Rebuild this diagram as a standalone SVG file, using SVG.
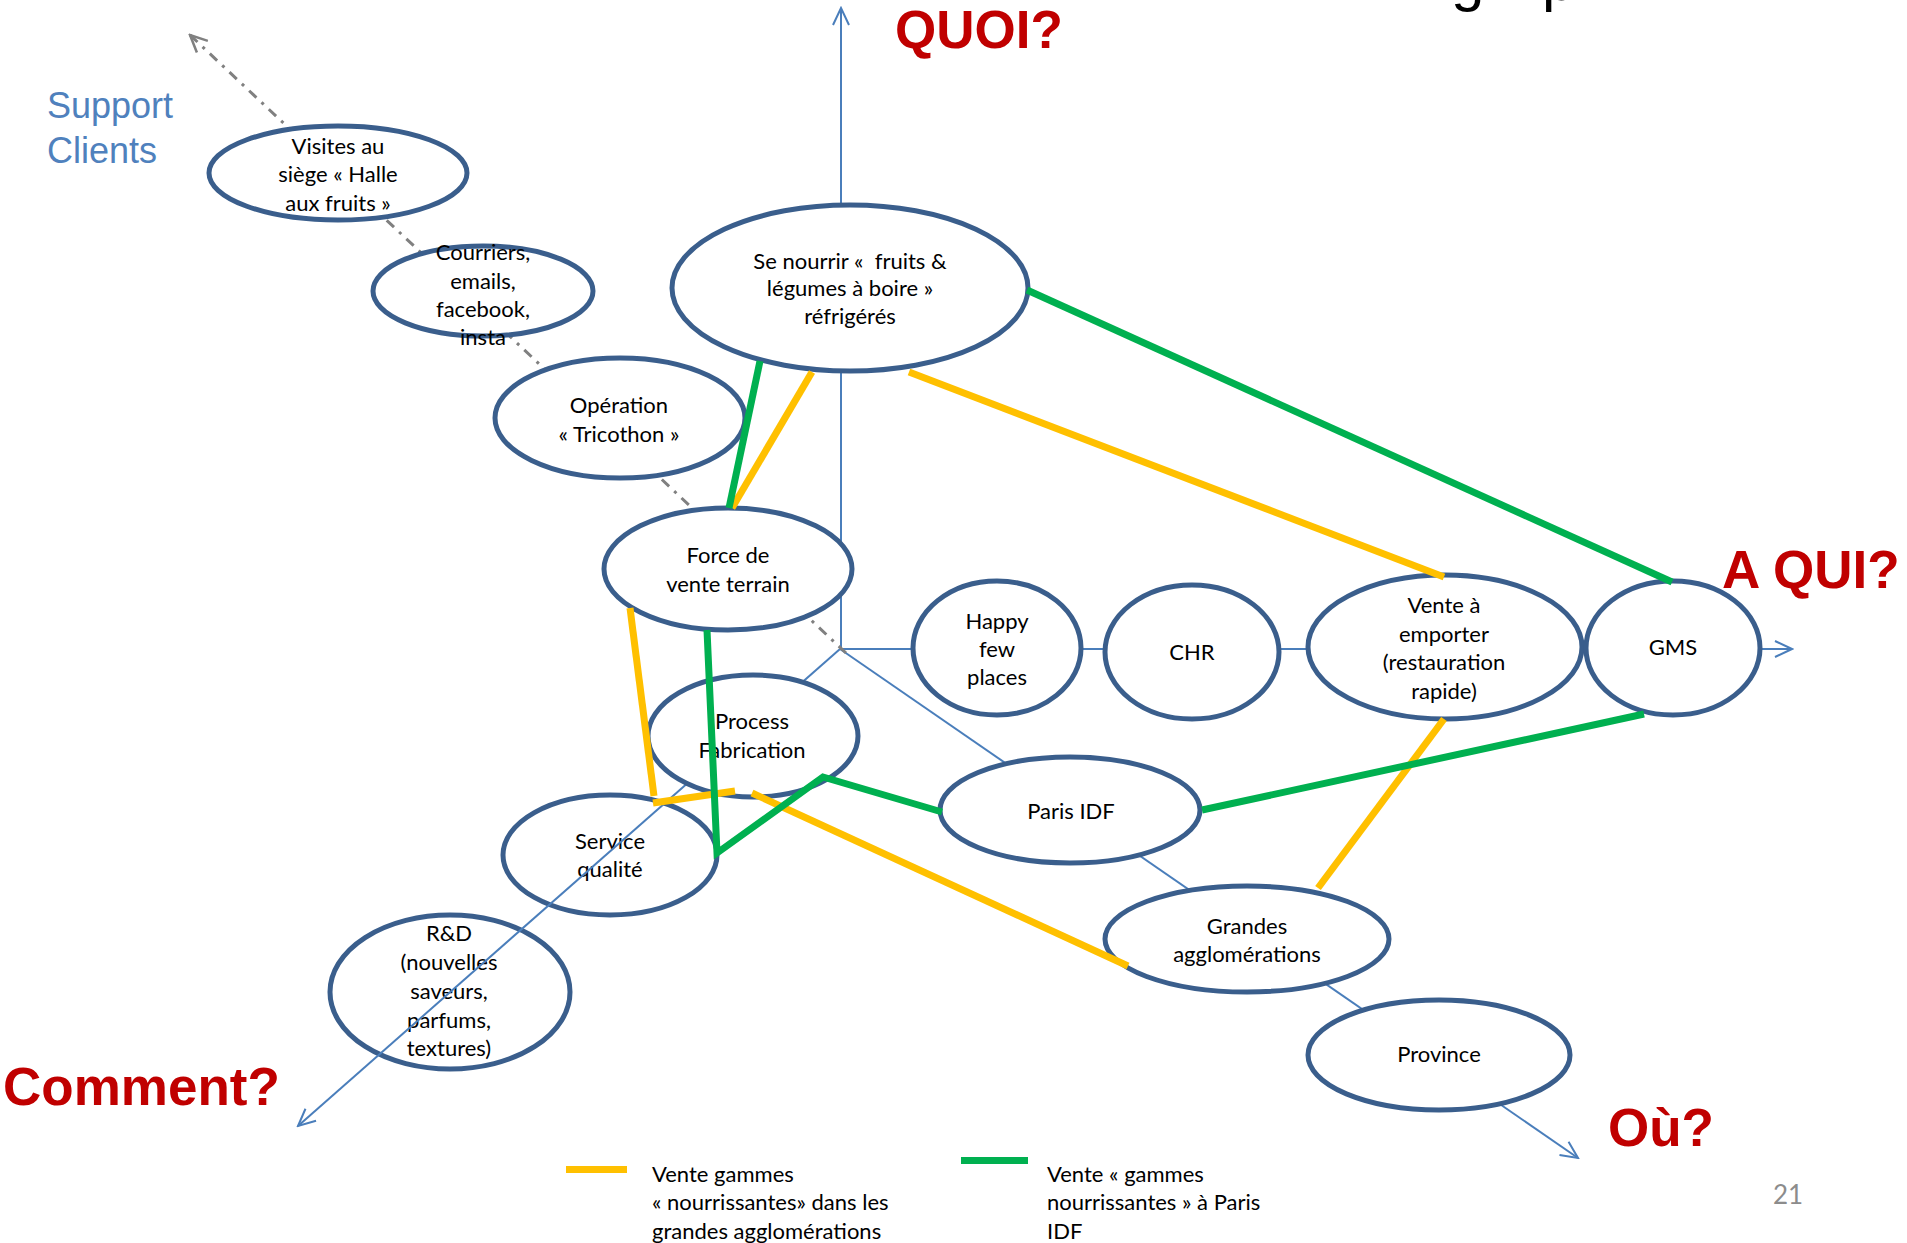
<svg xmlns="http://www.w3.org/2000/svg" width="1907" height="1243" viewBox="0 0 1907 1243">
  <style>
    .node ellipse { fill: #ffffff; stroke: #3A5E8C; stroke-width: 5; }
    .node text, .legend text { font-family: Lato, "Open Sans", "Liberation Sans", sans-serif; font-size: 22px; fill: #000000; text-anchor: middle; }
    .legend text { text-anchor: start; }
    .axis { stroke: #4A7EBB; stroke-width: 2; fill: none; }
    .support { stroke: #808080; stroke-width: 3; fill: none; stroke-dasharray: 10 7 3 7; }
    .gp { stroke: #FFC000; stroke-width: 7; fill: none; }
    .idf { stroke: #00B050; stroke-width: 7; fill: none; stroke-linejoin: miter; }
    .question { font-family: "Liberation Sans", Arial, sans-serif; font-weight: bold; font-size: 53px; fill: #C00000; }
    .side { font-family: "Liberation Sans", Arial, sans-serif; font-size: 36px; fill: #4F81BD; }
    .title { font-family: "Liberation Sans", Arial, sans-serif; font-size: 60px; fill: #000000; }
  </style>
  <defs>
    <marker id="arrow-blue" viewBox="0 0 20 18" refX="18" refY="9" markerWidth="20" markerHeight="18" markerUnits="userSpaceOnUse" orient="auto">
      <path d="M1,1 L18,9 L1,17" fill="none" stroke="#4A7EBB" stroke-width="2"/>
    </marker>
    <marker id="arrow-grey" viewBox="0 0 20 18" refX="18" refY="9" markerWidth="20" markerHeight="18" markerUnits="userSpaceOnUse" orient="auto">
      <path d="M1,1 L18,9 L1,17" fill="none" stroke="#808080" stroke-width="2.5"/>
    </marker>
  </defs>

  <rect x="0" y="0" width="1907" height="1243" fill="#ffffff"/>

  <!-- cropped title descenders -->
  <text class="title" x="1451" y="0">g</text>
  <text class="title" x="1542" y="0">p</text>

  <!-- axis questions -->
  <text class="question" x="895" y="48">QUOI?</text>
  <text class="question" x="1722" y="588">A QUI?</text>
  <text class="question" x="3" y="1105">Comment?</text>
  <text class="question" x="1608" y="1146">Où?</text>

  <text class="side" x="47" y="118">Support</text>
  <text class="side" x="47" y="163">Clients</text>

  <!-- nodes drawn beneath the "Comment?" axis -->
  <g id="service-qualite" class="node">
    <ellipse cx="610" cy="855" rx="107" ry="60"/>
    <text x="610" y="849">Service</text>
    <text x="610" y="877">qualité</text>
  </g>
  <g id="rd" class="node">
    <ellipse cx="450" cy="992" rx="120" ry="77"/>
    <text x="449" y="941">R&amp;D</text>
    <text x="449" y="970">(nouvelles</text>
    <text x="449" y="999">saveurs,</text>
    <text x="449" y="1028">parfums,</text>
    <text x="449" y="1056">textures)</text>
  </g>

  <!-- axes -->
  <g id="axes">
    <line class="axis" x1="841" y1="649" x2="841" y2="8" marker-end="url(#arrow-blue)"/>
    <line class="axis" x1="840" y1="649" x2="1792" y2="649" marker-end="url(#arrow-blue)"/>
    <line class="axis" x1="840" y1="649" x2="298" y2="1126" marker-end="url(#arrow-blue)"/>
    <line class="axis" x1="840" y1="649" x2="1578" y2="1158" marker-end="url(#arrow-blue)"/>
    <line class="support" x1="846" y1="653" x2="190" y2="35" marker-end="url(#arrow-grey)"/>
  </g>

  <!-- nodes -->
  <g id="visites" class="node">
    <ellipse cx="338" cy="173" rx="129" ry="47"/>
    <text x="338" y="154">Visites au</text>
    <text x="338" y="182">siège « Halle</text>
    <text x="338" y="211">aux fruits »</text>
  </g>
  <g id="courriers" class="node">
    <ellipse cx="483" cy="291" rx="110" ry="45"/>
    <text x="483" y="260">Courriers,</text>
    <text x="483" y="289">emails,</text>
    <text x="483" y="317">facebook,</text>
    <text x="483" y="345">insta</text>
  </g>
  <g id="tricothon" class="node">
    <ellipse cx="620" cy="418" rx="125" ry="60"/>
    <text x="619" y="413">Opération</text>
    <text x="619" y="442">« Tricothon »</text>
  </g>
  <g id="se-nourrir" class="node">
    <ellipse cx="850" cy="288" rx="178" ry="83"/>
    <text x="850" y="269" xml:space="preserve">Se nourrir «  fruits &amp;</text>
    <text x="850" y="296">légumes à boire »</text>
    <text x="850" y="324">réfrigérés</text>
  </g>
  <g id="force-vente" class="node">
    <ellipse cx="728" cy="569" rx="124" ry="61"/>
    <text x="728" y="563">Force de</text>
    <text x="728" y="592">vente terrain</text>
  </g>
  <g id="process" class="node">
    <ellipse cx="753" cy="736" rx="105" ry="61"/>
    <text x="752" y="729">Process</text>
    <text x="752" y="758">Fabrication</text>
  </g>
  <g id="happy-few" class="node">
    <ellipse cx="997" cy="648" rx="84" ry="67"/>
    <text x="997" y="629">Happy</text>
    <text x="997" y="657">few</text>
    <text x="997" y="685">places</text>
  </g>
  <g id="chr" class="node">
    <ellipse cx="1192" cy="652" rx="87" ry="67"/>
    <text x="1192" y="660">CHR</text>
  </g>
  <g id="vente-emporter" class="node">
    <ellipse cx="1445" cy="647" rx="137" ry="72"/>
    <text x="1444" y="613">Vente à</text>
    <text x="1444" y="642">emporter</text>
    <text x="1444" y="670">(restauration</text>
    <text x="1444" y="699">rapide)</text>
  </g>
  <g id="gms" class="node">
    <ellipse cx="1673" cy="648" rx="87" ry="67"/>
    <text x="1673" y="655">GMS</text>
  </g>
  <g id="paris-idf" class="node">
    <ellipse cx="1070" cy="810" rx="130" ry="53"/>
    <text x="1071" y="819">Paris IDF</text>
  </g>
  <g id="grandes-agglomerations" class="node">
    <ellipse cx="1247" cy="939" rx="142" ry="53"/>
    <text x="1247" y="934">Grandes</text>
    <text x="1247" y="962">agglomérations</text>
  </g>
  <g id="province" class="node">
    <ellipse cx="1439" cy="1055" rx="131" ry="55"/>
    <text x="1439" y="1062">Province</text>
  </g>

  <!-- sales links -->
  <g id="connectors">
    <line class="gp" x1="812" y1="372" x2="732" y2="508"/>
    <line class="gp" x1="909" y1="372" x2="1444" y2="577"/>
    <line class="gp" x1="1444" y1="719" x2="1318" y2="888"/>
    <line class="gp" x1="630" y1="608" x2="654" y2="796"/>
    <line class="gp" x1="653" y1="803" x2="735" y2="791"/>
    <line class="gp" x1="752" y1="793" x2="1128" y2="966"/>
    <line class="idf" x1="760" y1="361" x2="729" y2="508"/>
    <line class="idf" x1="1027" y1="290" x2="1672" y2="582"/>
    <line class="idf" x1="1644" y1="714" x2="1202" y2="810"/>
    <polyline class="idf" points="707,630 717,853 823,777 942,812"/>
  </g>

  <!-- legend -->
  <g id="legend" class="legend">
    <rect x="566" y="1166" width="61" height="7" fill="#FFC000"/>
    <text x="652" y="1182">Vente gammes</text>
    <text x="652" y="1210">« nourrissantes» dans les</text>
    <text x="652" y="1239">grandes agglomérations</text>
    <rect x="961" y="1157" width="67" height="7" fill="#00B050"/>
    <text x="1047" y="1182">Vente « gammes</text>
    <text x="1047" y="1210">nourrissantes » à Paris</text>
    <text x="1047" y="1239">IDF</text>
  </g>

  <text x="1788" y="1204" font-family="Lato, 'Liberation Sans', sans-serif" font-size="26" fill="#8C8C8C" text-anchor="middle">21</text>
</svg>
